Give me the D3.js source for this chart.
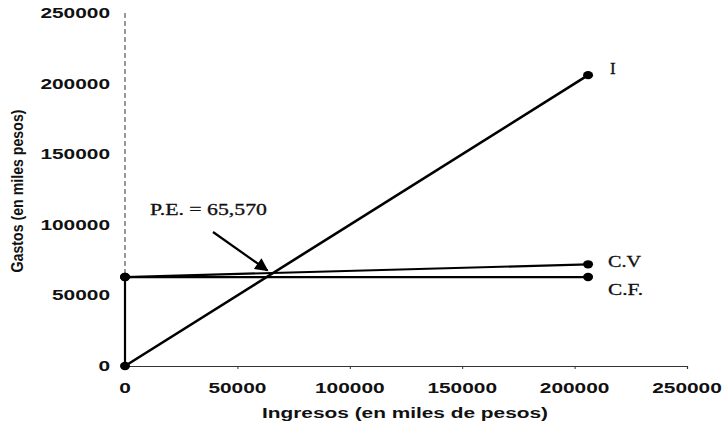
<!DOCTYPE html>
<html>
<head>
<meta charset="utf-8">
<script src="https://cdn.jsdelivr.net/npm/d3@7"></script>
<style>
  body { margin: 0; background: #fff; }
  svg { display: block; }
  .tick-label { font-family: "Liberation Sans", Arial, sans-serif; font-weight: bold; font-size: 14px; fill: #111; }
  .serif { font-family: "Liberation Serif", "Times New Roman", serif; font-size: 17px; fill: #111; stroke: #111; stroke-width: 0.3; }
</style>
</head>
<body>
<div id="chart"></div>
<script>
// ticks
const xTicks = [0, 50000, 100000, 150000, 200000, 250000]
const yTicks = [0, 50000, 100000, 150000, 200000, 250000]

// series (ingresos, gastos)
const ingresosX = [0, 206000]
const ingresosY = [0, 206000]
const costoVarX = [0, 206000]
const costoVarY = [63000, 72000]
const costoFijoX = [0, 0, 206000]
const costoFijoY = [0, 63000, 63000]

const puntoEquilibrio = 65570

let svg = d3.select("#chart").append("svg")
            .attr("width", 724).attr("height", 425)

let x = d3.scaleLinear().domain([0, 250000]).range([125, 687])
let y = d3.scaleLinear().domain([0, 250000]).range([366, 13])

//y axis: dotted line
svg.append("line")
   .attr("x1", x(0)).attr("x2", x(0))
   .attr("y1", y(250000)).attr("y2", y(0))
   .attr("stroke", "#555").attr("stroke-width", 1.2)
   .attr("stroke-dasharray", "5,3")

//x axis
let xAxis = svg.append("g").attr("transform", `translate(0,${y(0)})`)
    .call(d3.axisBottom(x).tickValues(xTicks).tickSize(3).tickFormat(""))
xAxis.select(".domain").attr("stroke", "#333").attr("stroke-width", 1.2)
xAxis.selectAll(".tick line").attr("stroke", "#333")

//tick labels (stretched like the scan)
svg.selectAll(".xlab")
   .data(xTicks)
   .enter()
   .append("text")
   .attr("class", "tick-label")
   .attr("x", (d) => x(d))
   .attr("y", 393)
   .attr("text-anchor", "middle")
   .attr("textLength", (d) => String(d).length * 11.6)
   .attr("lengthAdjust", "spacingAndGlyphs")
   .text((d) => d)

svg.selectAll(".ylab")
   .data(yTicks)
   .enter()
   .append("text")
   .attr("class", "tick-label")
   .attr("x", 110)
   .attr("y", (d) => y(d) + 5)
   .attr("text-anchor", "end")
   .attr("textLength", (d) => String(d).length * 11.6)
   .attr("lengthAdjust", "spacingAndGlyphs")
   .text((d) => d)

//axis titles
svg.append("text")
   .attr("class", "tick-label")
   .attr("x", 405).attr("y", 418)
   .attr("text-anchor", "middle")
   .attr("textLength", 286).attr("lengthAdjust", "spacingAndGlyphs")
   .text("Ingresos (en miles de pesos)")

svg.append("text")
   .attr("class", "tick-label")
   .style("font-size", "17px")
   .attr("transform", "translate(23,191) rotate(-90)")
   .attr("text-anchor", "middle")
   .attr("textLength", 163).attr("lengthAdjust", "spacingAndGlyphs")
   .text("Gastos (en miles pesos)")

//lines
let line = d3.line().x((d) => x(d[0])).y((d) => y(d[1]))
let series = [
    {name: "I", xs: ingresosX, ys: ingresosY, w: 2.6},
    {name: "C.V", xs: costoVarX, ys: costoVarY, w: 2.2},
    {name: "C.F.", xs: costoFijoX, ys: costoFijoY, w: 2.2}
]
series.forEach((s) => {
    let pts = s.xs.map((v, i) => [v, s.ys[i]])
    svg.append("path")
       .attr("d", line(pts))
       .attr("fill", "none")
       .attr("stroke", "#000")
       .attr("stroke-width", s.w)
    svg.selectAll(null)
       .data(pts.filter((p, i) => !(s.name == "C.F." && i == 0)))
       .enter()
       .append("ellipse")
       .attr("cx", (d) => x(d[0]))
       .attr("cy", (d) => y(d[1]))
       .attr("rx", 5).attr("ry", 4.2)
       .attr("fill", "#000")
})

//series labels
svg.append("text").attr("class", "serif").attr("x", 610).attr("y", 74).text("I")
svg.append("text").attr("class", "serif").attr("x", 608).attr("y", 267)
   .attr("textLength", 33).attr("lengthAdjust", "spacingAndGlyphs").text("C.V")
svg.append("text").attr("class", "serif").attr("x", 608).attr("y", 295)
   .attr("textLength", 35).attr("lengthAdjust", "spacingAndGlyphs").text("C.F.")

//break even annotation
svg.append("defs").append("marker")
   .attr("id", "head")
   .attr("viewBox", "0 0 10 10")
   .attr("refX", 9).attr("refY", 5)
   .attr("markerWidth", 7).attr("markerHeight", 6)
   .attr("orient", "auto")
   .append("path").attr("d", "M0,0 L10,5 L0,10 Z").attr("fill", "#000")

svg.append("line")
   .attr("x1", 213).attr("y1", 232)
   .attr("x2", x(puntoEquilibrio) - 5).attr("y2", y(puntoEquilibrio) - 3)
   .attr("stroke", "#000").attr("stroke-width", 2.2)
   .attr("marker-end", "url(#head)")

svg.append("text").attr("class", "serif")
   .style("font-size", "16px")
   .attr("x", 150).attr("y", 215)
   .attr("textLength", 117).attr("lengthAdjust", "spacingAndGlyphs")
   .text("P.E. = " + d3.format(",")(puntoEquilibrio))
</script>
</body>
</html>
